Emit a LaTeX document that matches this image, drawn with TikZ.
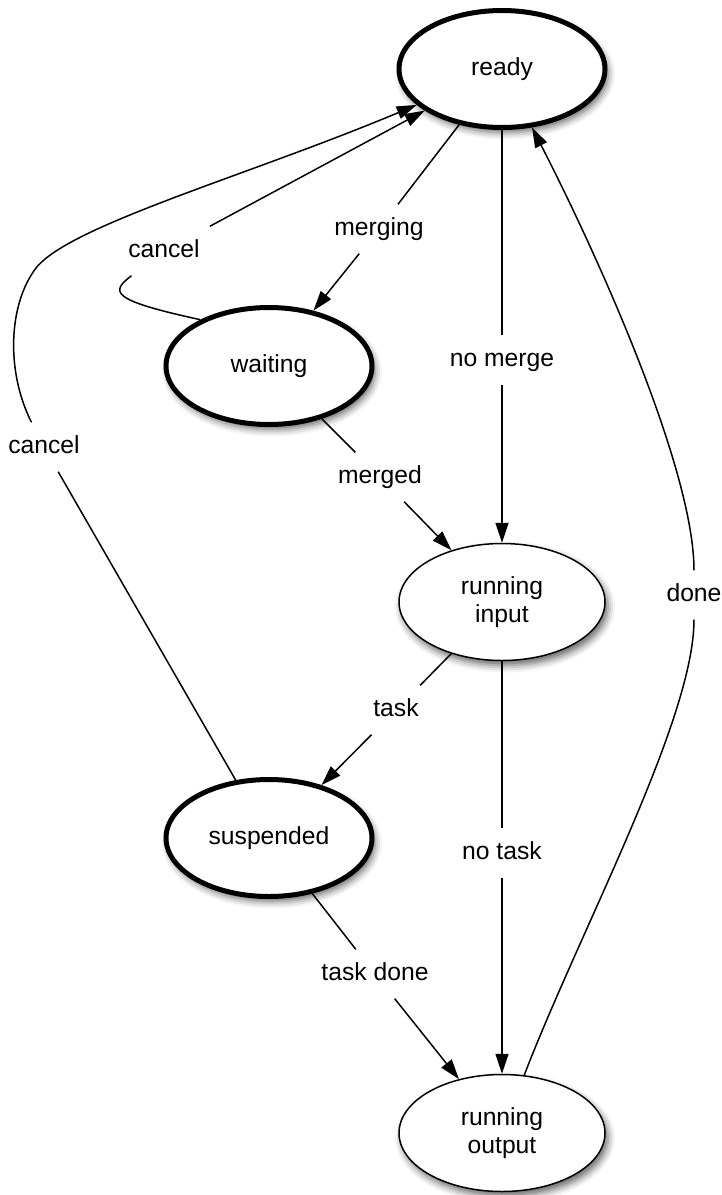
\documentclass[tikz,border=0pt]{standalone}
\usepackage{fontspec}
\setmainfont{Liberation Sans}
\usetikzlibrary{arrows.meta,shapes.geometric,shadows.blur}
\begin{document}
\begin{tikzpicture}[x=1pt,y=1pt,
  state/.style={ellipse, draw, fill=white, minimum width=206pt, minimum height=117pt,
    inner sep=0pt, align=center, font=\fontsize{24.7pt}{28pt}\selectfont,
    blur shadow={shadow xshift=3pt, shadow yshift=-5pt, shadow blur radius=7pt, shadow opacity=60}},
  thickstate/.style={state, line width=5pt},
  thinstate/.style={state, line width=1.5pt},
  lbl/.style={inner sep=13pt, font=\fontsize{24.7pt}{28pt}\selectfont, text height=17.8pt, text depth=5.2pt},
  edge/.style={line width=1.5pt},
  arr/.style={edge, -{Triangle[length=20pt,width=13pt]}}]
\path[use as bounding box] (0,0) rectangle (722,-1195);

% states
\node[thickstate] (ready)   at (502,-69)   {ready};
\node[thickstate] (waiting) at (269,-366)  {waiting};
\node[thinstate]  (rin)     at (502,-602)  {running\\input};
\node[thickstate] (susp)    at (269,-838)  {suspended};
\node[thinstate]  (rout)    at (502,-1133) {running\\output};

% labels
\node[lbl] (lmerging)  at (379,-229) {merging};
\node[lbl] (lcancelA)  at (164,-251) {cancel};
\node[lbl] (lcancelB)  at (44,-447)  {cancel};
\node[lbl] (lnomerge)  at (502,-360) {no merge};
\node[lbl] (lmerged)   at (380,-477) {merged};
\node[lbl] (ltask)     at (396,-710) {task};
\node[lbl] (lnotask)   at (502,-853) {no task};
\node[lbl] (ltaskdone) at (375,-974) {task done};
\node[lbl] (ldone)     at (694,-595) {done};

% ready -> waiting
\draw[edge] (ready) -- (lmerging);
\draw[arr]  (lmerging) -- (waiting);
% ready -> running input
\draw[edge] (ready) -- (lnomerge);
\draw[arr]  (lnomerge) -- (rin);
% waiting -> running input
\draw[edge] (waiting) -- (lmerged);
\draw[arr]  (lmerged) -- (rin);
% running input -> suspended
\draw[edge] (rin) -- (ltask);
\draw[arr]  (ltask) -- (susp);
% running input -> running output
\draw[edge] (rin) -- (lnotask);
\draw[arr]  (lnotask) -- (rout);
% suspended -> running output
\draw[edge] (susp) -- (ltaskdone);
\draw[arr]  (ltaskdone) -- (rout);
% running output -> ready
\draw[edge] (rout) .. controls (580,-930) and (694,-720) .. (ldone);
\draw[arr]  (ldone) .. controls (694,-470) and (600,-260) .. (ready);
% waiting -> ready (cancel)
\draw[edge] (waiting.146) .. controls (110,-300) and (110,-292) .. (lcancelA);
\draw[arr]  (lcancelA) -- (ready);
% suspended -> ready (cancel)
\coordinate (bendB) at (36,-268);
\draw[edge] (susp) -- (lcancelB);
\draw[arr]  (lcancelB) .. controls (6,-372) and (8,-305) .. (bendB)
            .. controls (70,-225) and (250,-175) .. (ready);
\end{tikzpicture}
\end{document}
